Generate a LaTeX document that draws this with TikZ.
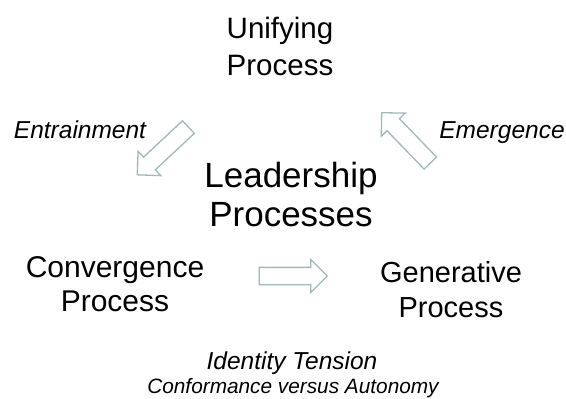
\documentclass[tikz,border=0pt]{standalone}
\usepackage{fontspec}
\setmainfont{Liberation Sans}
\usetikzlibrary{shapes.arrows}
\definecolor{arrowgray}{RGB}{160,184,184}
\tikzset{
  proc/.style={align=center, font=\fontsize{29.5}{37}\selectfont},
  tag/.style={anchor=base, font=\fontsize{24.5}{28}\selectfont\itshape},
  blockarrow/.style={single arrow, draw=arrowgray, line width=1.3pt, fill=white,
    minimum height=70pt, inner xsep=0pt, inner ysep=8pt, text height=0pt, text depth=0pt,
    single arrow head extend=8pt, single arrow head indent=0pt}
}
\begin{document}
\begin{tikzpicture}[x=1pt,y=-1pt]
  \useasboundingbox (0,0) rectangle (566,399);

  \node [proc] (unify) at (280,46) {Unifying\\Process};
  \node [proc, font=\fontsize{35}{39}\selectfont] (lead) at (291,194) {Leadership\\Processes};
  \node [proc, font=\fontsize{30}{34}\selectfont] (conv) at (115,284) {Convergence\\Process};
  \node [proc, font=\fontsize{29}{35}\selectfont] (gen) at (451,290) {Generative\\Process};

  \node [tag] (entrain) at (80,138) {Entrainment};
  \node [tag] (emerge) at (502,138) {Emergence};

  \node [blockarrow, rotate=-137] (entarrow) at (166,148) {};
  \node [blockarrow, rotate=134] (emarrow) at (409,141) {};
  \node [blockarrow, minimum height=68pt] (convarrow) at (289,276) {};

  \node [tag] (tension) at (292,369) {Identity Tension};
  \node [tag, font=\fontsize{20.8}{24}\selectfont\itshape] (conform) at (293,393) {Conformance versus Autonomy};
\end{tikzpicture}
\end{document}
